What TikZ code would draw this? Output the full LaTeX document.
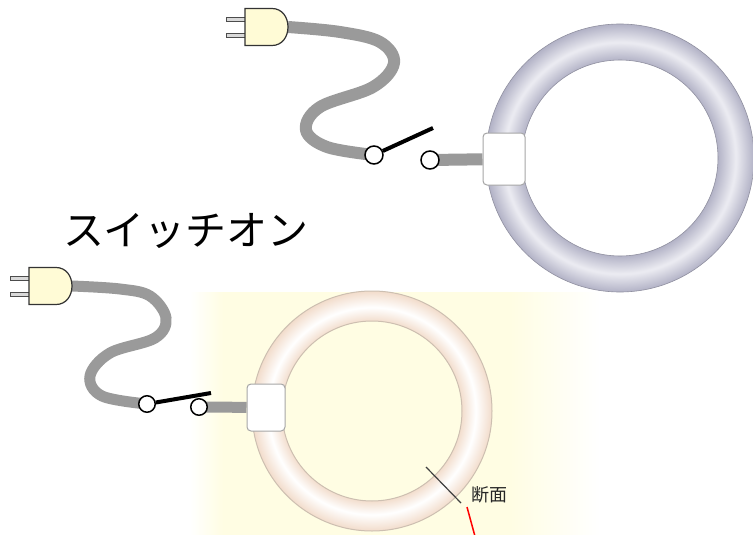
\documentclass[tikz,border=0pt]{standalone}
\usepackage{fontspec}
\newfontfamily\jpfont{Noto Sans CJK JP}

\definecolor{cordgray}{HTML}{9A9A9A}
\definecolor{plugfill}{HTML}{FFFBD6}
\definecolor{tubeedge}{HTML}{B2B2C6}
\definecolor{tubemid}{HTML}{ECECF2}
\definecolor{tubeline}{HTML}{9090A0}
\definecolor{litedge}{HTML}{F2DCCB}
\definecolor{litline}{HTML}{CDBFB1}
\definecolor{glow}{HTML}{FFFDE3}

% lamp tube, off and lit
\pgfdeclareradialshading{tubeoff}{\pgfpoint{0bp}{0bp}}{color(0bp)=(white); color(18.2bp)=(tubeedge); color(21.6bp)=(tubemid); color(25bp)=(tubeedge); color(50bp)=(tubeedge)}
\pgfdeclareradialshading{tubeon}{\pgfpoint{0bp}{0bp}}{color(0bp)=(white); color(18.6bp)=(litedge); color(21.6bp)=(white); color(25bp)=(litedge); color(50bp)=(litedge)}
\pgfdeclarehorizontalshading{glowband}{100bp}{color(0bp)=(white); color(25bp)=(white); color(29bp)=(glow); color(64bp)=(glow); color(75bp)=(white); color(100bp)=(white)}

\tikzset{
  cord/.style={line width=12pt, cordgray},
  lever/.style={line width=4pt, black},
  contact/.style={circle, draw=black, line width=1.5pt, fill=white, minimum size=18pt, inner sep=0pt},
  socket/.style={draw=gray!70, fill=white, rounded corners=4pt, line width=1pt, inner sep=0pt},
  prong/.style={draw=black!70, fill=gray!30, line width=0.8pt},
  plug/.pic={
    \draw[prong] (-62,-10) rectangle (-43,-6);
    \draw[prong] (-62,6) rectangle (-43,10);
    \draw[draw=black!80, fill=plugfill, line width=1.2pt]
      (-43,-18.5) -- (-16,-18.5) .. controls (-6,-18.5) and (0,-10) .. (0,0)
      .. controls (0,10) and (-6,18.5) .. (-16,18.5) -- (-43,18.5) -- cycle;
  }
}

\begin{document}
\begin{tikzpicture}[x=1pt, y=-1pt]
\fill[white] (0,0) rectangle (753,535);
\useasboundingbox (0,0) rectangle (753,535);

% Glow around the lit lamp
\shade[shading=glowband] (190,292) rectangle (600,540);

% Lamps
\coordinate (ringA) at (620,158);
\coordinate (ringB) at (372,411);
\shade[shading=tubeoff, even odd rule] (ringA) circle[radius=134] (ringA) circle[radius=98];
\draw[tubeline, line width=0.6pt] (ringA) circle[radius=134] (ringA) circle[radius=98];
\shade[shading=tubeon, even odd rule] (ringB) circle[radius=120] (ringB) circle[radius=90];
\draw[litline, line width=1pt] (ringB) circle[radius=120] (ringB) circle[radius=90];

\node[socket, minimum width=42pt, minimum height=52pt] (boxA) at (504,159) {};
\node[socket, minimum width=38pt, minimum height=47pt] (boxB) at (266,407.5) {};

% Switch off
\coordinate (plugA) at (288,27);
\coordinate (swAl) at (374,155);
\coordinate (swAr) at (430,160);
\draw[cord] plot[smooth, tension=0.6] coordinates {(plugA) (340,32) (380,42) (394,63) (373,87) (320,107) (306,130) (327,147) (swAl)};
\draw[cord] (swAr) -- (boxA);
\node[contact] (cAl) at (swAl) {};
\node[contact] (cAr) at (swAr) {};
\draw[lever] (cAl) -- (433,128);
\pic at (plugA) {plug};

% Switch on
\coordinate (plugB) at (72,286);
\coordinate (swBl) at (147,404);
\coordinate (swBr) at (199,407);
\draw[cord, line width=11pt] plot[smooth, tension=0.6] coordinates {(plugB) (120,289) (150,296) (166,318) (155,338) (110,353) (90,376) (102,396) (swBl)};
\draw[cord, line width=11pt] (swBr) -- (boxB);
\node[contact, minimum size=16.5pt] (cBl) at (swBl) {};
\node[contact, minimum size=16.5pt] (cBr) at (swBr) {};
\draw[lever] (cBl) -- (211,393);
\pic at (plugB) {plug};

% Labels
\node[font=\jpfont\fontsize{41}{41}\selectfont] (onlabel) at (186,231) {スイッチオン};
\coordinate (cutIn) at (426,467);
\coordinate (cutOut) at (461,503);
\draw[black!75, line width=1.2pt] (cutIn) -- (cutOut);
\node[font=\jpfont\fontsize{18}{18}\selectfont, text=black!85] (seclabel) at (489,495) {断面};
\coordinate (redTop) at (467,507);
\coordinate (redEnd) at (476,540);
\draw[red, line width=1.5pt] (redTop) -- (redEnd);
\end{tikzpicture}
\end{document}
